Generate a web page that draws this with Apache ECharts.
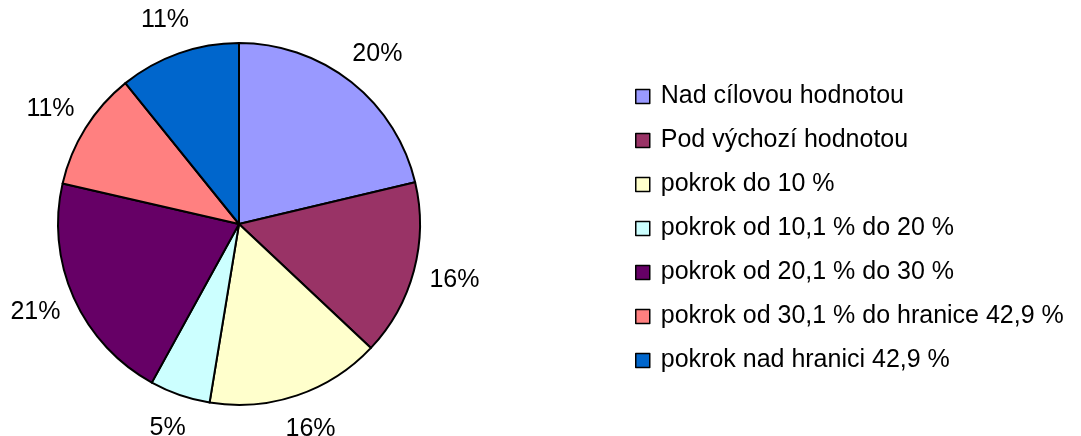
<!DOCTYPE html>
<html>
<head>
<meta charset="utf-8">
<script src="https://cdn.jsdelivr.net/npm/echarts@6/dist/echarts.min.js"></script>
<style>
  html, body { margin: 0; padding: 0; background: #fff; }
  #chart { width: 1081px; height: 436px; }
</style>
</head>
<body>
<div id="chart"></div>
<script>
const categories = [
  'Nad cílovou hodnotou',
  'Pod výchozí hodnotou',
  'pokrok do 10 %',
  'pokrok od 10,1 % do 20 %',
  'pokrok od 20,1 % do 30 %',
  'pokrok od 30,1 % do hranice 42,9 %',
  'pokrok nad hranici 42,9 %'
];
const shares = [21.3, 15.7, 15.6, 5.4, 20.6, 10.6, 10.8];
const pctLabels = ['20%', '16%', '16%', '5%', '21%', '11%', '11%'];

const colors = ['#9999FF', '#993366', '#FFFFCC', '#CCFFFF', '#660066', '#FF8080', '#0066CC'];
const font = "'Liberation Sans', Arial, sans-serif";

// direction of each slice's middle (clockwise from 12 o'clock), used to push
// the label box away from the pie like Excel does
const total = shares.reduce((a, b) => a + b, 0);
let acc = 0;
const midDirs = shares.map(v => {
  const a = (acc + v / 2) / total * Math.PI * 2;
  acc += v;
  return [Math.sin(a), -Math.cos(a)];
});

const container = document.getElementById('chart');
const chart = echarts.init(container, null, { renderer: 'canvas', width: 1081, height: 436 });

const pieData = categories.map((name, i) => ({ name: name, value: shares[i] }));

chart.setOption({
  animation: false,
  color: colors,
  legend: {
    orient: 'vertical',
    left: 635,
    top: 84,
    padding: 0,
    itemWidth: 14,
    itemHeight: 14,
    itemGap: 19,
    icon: 'rect',
    data: categories,
    itemStyle: { borderColor: '#000', borderWidth: 1.5 },
    textStyle: { fontFamily: font, fontSize: 25, lineHeight: 25, color: '#000', padding: [0, 0, 0, 6] }
  },
  series: [
    {
      name: 'main',
      type: 'pie',
      center: [239, 224],
      radius: 181,
      startAngle: 90,
      clockwise: true,
      avoidLabelOverlap: false,
      itemStyle: { borderColor: '#000', borderWidth: 2 },
      label: { show: false },
      labelLine: { show: false },
      emphasis: { disabled: true },
      data: pieData
    },
    {
      // transparent ring that only carries the percentage labels
      name: 'labels',
      type: 'pie',
      center: [239, 224],
      radius: [181, 225],
      startAngle: 90,
      clockwise: true,
      silent: true,
      avoidLabelOverlap: false,
      itemStyle: { color: 'rgba(0,0,0,0)', borderWidth: 0 },
      label: {
        show: true,
        position: 'inside',
        fontFamily: font,
        fontSize: 25,
        color: '#000',
        formatter: p => pctLabels[p.dataIndex]
      },
      labelLayout: p => {
        const d = midDirs[p.dataIndex];
        return { dx: d[0] * p.labelRect.width * 0.34, dy: d[1] * p.labelRect.height / 2.4 };
      },
      labelLine: { show: false },
      emphasis: { disabled: true },
      data: pieData
    }
  ]
});
</script>
</body>
</html>
